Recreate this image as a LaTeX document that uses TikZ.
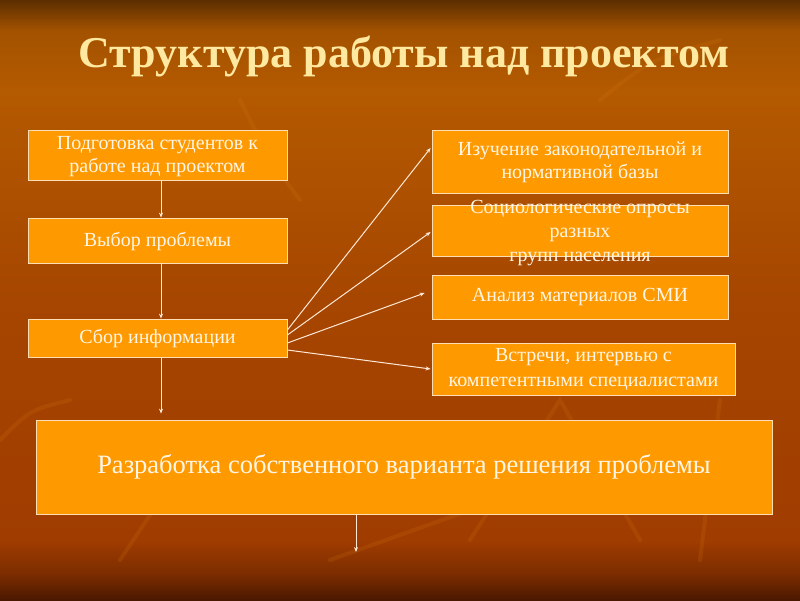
\documentclass[tikz,border=0pt]{standalone}
\usepackage{fontspec}
\setmainfont{Liberation Serif}
\usetikzlibrary{arrows.meta}
\definecolor{boxfill}{RGB}{255,153,0}
\definecolor{boxline}{RGB}{255,222,180}
\definecolor{boxtext}{RGB}{255,246,230}
\definecolor{titlecol}{RGB}{255,232,160}
\definecolor{arrcol}{RGB}{255,232,215}
\definecolor{bgA}{RGB}{92,46,0}
\definecolor{bgB}{RGB}{163,82,0}
\definecolor{bgC}{RGB}{180,90,0}
\definecolor{bgD}{RGB}{166,70,0}
\definecolor{bgE}{RGB}{160,60,0}
\definecolor{bgF}{RGB}{122,44,0}
\definecolor{bgG}{RGB}{74,24,0}
\definecolor{streak}{RGB}{215,120,20}
\tikzset{
  stepbox/.style={draw=boxline, line width=0.8pt, fill=boxfill, text=boxtext,
    align=center, inner sep=0pt, font=\fontsize{20}{23}\selectfont},
  arr/.style={draw=arrcol, line width=1pt, -{Stealth[length=5pt,width=4pt]}},
  streakline/.style={draw=streak, opacity=0.18, line width=4pt, line cap=round},
}
\begin{document}
\begin{tikzpicture}[x=1pt,y=-1pt]
\useasboundingbox (0,0) rectangle (800,600);
% background
\shade[top color=bgA, bottom color=bgB] (0,0) rectangle (800,30.5);
\shade[top color=bgB, bottom color=bgC] (0,30) rectangle (800,90.5);
\shade[top color=bgC, bottom color=bgD] (0,90) rectangle (800,300.5);
\shade[top color=bgD, bottom color=bgE] (0,300) rectangle (800,540.5);
\shade[top color=bgE, bottom color=bgF] (0,540) rectangle (800,575.5);
\shade[top color=bgF, bottom color=bgG] (0,575) rectangle (800,600);
% faint texture streaks
\draw[streakline] (330,560) -- (560,478);
\draw[streakline] (470,540) -- (560,400) -- (640,540);
\draw[streakline] (0,440) .. controls (30,410) .. (70,400);
\draw[streakline] (700,560) -- (720,400);
\draw[streakline] (240,100) .. controls (270,160) .. (300,200);
\draw[streakline] (600,100) .. controls (650,60) .. (720,40);
\draw[streakline] (120,560) -- (200,440);
% title
\node[text=titlecol, anchor=base, font=\fontsize{44}{48}\selectfont\bfseries] (title) at (404,67) {Структура работы над проектом};
% left column
\node[stepbox, minimum width=259, minimum height=50] (A) at (157.5,155) {\rule{0pt}{17pt}Подготовка студентов к\\работе над проектом};
\node[stepbox, minimum width=259, minimum height=45] (B) at (157.5,240.5) {\rule{0pt}{16pt}Выбор проблемы};
\node[stepbox, minimum width=259, minimum height=38] (C) at (157.5,338) {Сбор информации};
% right column
\node[stepbox, minimum width=296, minimum height=63] (E) at (580,161.5) {\rule{0pt}{15pt}Изучение законодательной и\\нормативной базы};
\node[stepbox, minimum width=296, minimum height=51] (F) at (580,230.5) {};
\node[text=boxtext, align=center, inner sep=0pt, font=\fontsize{20}{24}\selectfont] (Ft) at (580,233) {Социологические опросы\\разных\\групп населения};
\node[stepbox, minimum width=296, minimum height=44] (G) at (580,297) {Анализ материалов СМИ};
\node[stepbox, minimum width=303, minimum height=52, font=\fontsize{20}{25}\selectfont] (H) at (583.5,369) {Встречи, интервью с\\компетентными специалистами};
% big box
\node[stepbox, minimum width=736, minimum height=94, font=\fontsize{26.5}{30}\selectfont] (D) at (404,467) {Разработка собственного варианта решения проблемы};
\coordinate (end) at (356,552);
% arrows
\draw[arr] ([xshift=3.5pt]A.south) -- ([xshift=3.5pt]B.north);
\draw[arr] ([xshift=3.5pt]B.south) -- ([xshift=3.5pt]C.north);
\draw[arr, shorten >=6pt] ([xshift=3.5pt]C.south) -- ([xshift=3.5pt]C.south |- D.north);
\draw[arr] (D.south -| end) -- (end);
\draw[arr] ([yshift=8pt]C.east) -- ([yshift=13.5pt,xshift=-1pt]E.west);
\draw[arr] ([yshift=3pt]C.east) -- ([yshift=-1.5pt,xshift=-1pt]F.west);
\draw[arr] ([yshift=-5pt]C.east) -- ([yshift=4pt,xshift=-7pt]G.west);
\draw[arr] ([yshift=-12pt]C.east) -- ([xshift=-1pt]H.west);
\end{tikzpicture}
\end{document}
